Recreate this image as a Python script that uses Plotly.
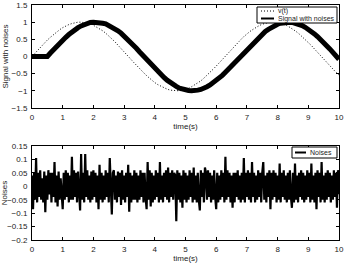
import numpy as np
import plotly.graph_objects as go
from plotly.subplots import make_subplots

# time grid for the smooth curves (0..10 s, step 0.1)
t_sig = np.round(np.arange(0, 10.0001, 0.1), 2)

v_t = [0.00, 0.10, 0.20, 0.30, 0.39, 0.48, 0.56, 0.64, 0.72, 0.78,
       0.84, 0.89, 0.93, 0.96, 0.99, 1.00, 1.00, 0.99, 0.97, 0.95,
       0.91, 0.86, 0.81, 0.75, 0.68, 0.60, 0.52, 0.43, 0.33, 0.24,
       0.14, 0.04, -0.06, -0.16, -0.26, -0.35, -0.44, -0.53, -0.61, -0.69,
       -0.76, -0.82, -0.87, -0.92, -0.95, -0.98, -0.99, -1.00, -1.00, -0.98,
       -0.96, -0.93, -0.88, -0.83, -0.77, -0.71, -0.63, -0.55, -0.46, -0.37,
       -0.28, -0.18, -0.08, 0.02, 0.12, 0.22, 0.31, 0.40, 0.49, 0.58,
       0.66, 0.73, 0.79, 0.85, 0.90, 0.94, 0.97, 0.99, 1.00, 1.00,
       0.99, 0.97, 0.94, 0.90, 0.85, 0.80, 0.73, 0.66, 0.58, 0.50,
       0.41, 0.32, 0.22, 0.12, 0.03, -0.08, -0.17, -0.27, -0.37, -0.46,
       -0.54]

signal_noisy = [0.00, 0.00, 0.00, 0.00, 0.00, 0.00, 0.10, 0.20, 0.30, 0.39,
                0.48, 0.56, 0.64, 0.72, 0.78, 0.84, 0.89, 0.93, 0.96, 0.99,
                1.00, 1.00, 0.99, 0.97, 0.95, 0.91, 0.86, 0.81, 0.75, 0.68,
                0.60, 0.52, 0.43, 0.33, 0.24, 0.14, 0.04, -0.06, -0.16, -0.26,
                -0.35, -0.44, -0.53, -0.61, -0.69, -0.76, -0.82, -0.87, -0.92, -0.95,
                -0.98, -0.99, -1.00, -1.00, -0.98, -0.96, -0.93, -0.88, -0.83, -0.77,
                -0.71, -0.63, -0.55, -0.46, -0.37, -0.28, -0.18, -0.08, 0.02, 0.12,
                0.22, 0.31, 0.40, 0.49, 0.58, 0.66, 0.73, 0.79, 0.85, 0.90,
                0.94, 0.97, 0.99, 1.00, 1.00, 0.99, 0.97, 0.94, 0.90, 0.85,
                0.80, 0.73, 0.66, 0.58, 0.50, 0.41, 0.32, 0.22, 0.12, 0.03,
                -0.08]

noise = [0.04, -0.085, 0.05, -0.05, 0.105, -0.06, 0.05, -0.04, 0.06, -0.05,
         0.03, -0.06, 0.055, -0.097, 0.04, -0.05, 0.06, -0.03, 0.05, -0.06,
         0.05, -0.04, 0.09, -0.06, 0.04, -0.075, 0.055, -0.05, 0.03, -0.06,
         -0.085, 0.05, -0.05, 0.06, -0.04, 0.05, -0.06, 0.04, -0.05, 0.11,
         -0.05, 0.06, -0.04, 0.05, -0.06, 0.055, -0.05, -0.09, 0.12, -0.05,
         0.05, -0.06, 0.12, -0.04, 0.06, -0.05, 0.04, -0.06, 0.055, -0.05,
         0.06, -0.04, 0.05, -0.06, 0.04, -0.085, 0.08, -0.05, 0.05, -0.06,
         0.04, -0.05, 0.06, -0.04, 0.05, -0.06, 0.105, -0.05, -0.105, 0.05,
         0.06, -0.05, 0.04, -0.06, 0.055, -0.04, 0.05, -0.07, 0.06, -0.05,
         0.04, -0.06, 0.05, -0.04, 0.08, -0.095, 0.05, -0.06, 0.04, -0.05,
         0.06, -0.05, 0.05, -0.06, 0.04, -0.05, 0.06, -0.04, 0.05, -0.06,
         0.05, -0.04, -0.085, 0.09, -0.05, 0.06, -0.075, 0.05, -0.06, 0.04,
         -0.05, 0.06, -0.04, 0.05, -0.06, 0.09, -0.05, 0.04, -0.06, 0.05,
         -0.04, 0.06, -0.05, 0.07, -0.06, 0.05, -0.04, 0.06, -0.05, 0.05,
         0.04, -0.13, 0.06, -0.05, 0.05, -0.06, 0.04, -0.08, 0.06, -0.05,
         0.05, -0.06, 0.04, -0.05, 0.06, -0.04, 0.05, -0.06, 0.07, -0.05,
         0.04, -0.06, 0.05, -0.05, -0.09, 0.06, -0.04, 0.05, -0.06, 0.07,
         0.05, -0.05, 0.06, -0.04, 0.05, -0.06, 0.04, -0.05, 0.06, -0.04,
         -0.085, 0.05, -0.06, 0.04, -0.05, 0.06, -0.04, 0.05, -0.06, 0.11,
         -0.05, 0.06, -0.04, 0.05, -0.06, 0.04, -0.08, 0.05, -0.06, 0.05,
         -0.04, 0.06, -0.05, 0.04, -0.06, 0.05, -0.05, 0.105, -0.06, 0.05,
         -0.04, 0.06, -0.05, 0.05, -0.06, 0.09, -0.04, 0.05, -0.06, 0.04,
         -0.05, 0.06, -0.04, 0.05, -0.06, 0.05, 0.09, -0.05, 0.04, -0.06,
         0.05, -0.04, 0.06, -0.085, 0.05, -0.05, 0.06, -0.04, 0.05, -0.06,
         0.04, -0.05, 0.085, -0.06, 0.05, -0.04, 0.06, -0.05, 0.04, -0.06,
         0.05, -0.05, 0.06, -0.04, -0.08, 0.05, -0.06, 0.085, -0.05, 0.04,
         -0.06, 0.05, -0.04, 0.06, -0.05, 0.05, -0.06, 0.04, -0.05, 0.06,
         -0.04, 0.05, -0.06, 0.085, -0.05, 0.04, -0.06, 0.05, -0.085, 0.06,
         -0.04, 0.05, -0.06, 0.09, -0.05, 0.04, -0.06, 0.05, -0.05, 0.06,
         -0.04, 0.05, -0.06, 0.04, -0.05, 0.06, -0.04, 0.05, -0.08, 0.06,
         -0.03]
t_noise = np.linspace(0, 10, len(noise))

x_ticks = [0, 1, 2, 3, 4, 5, 6, 7, 8, 9, 10]
y1_ticks = [-1.5, -1, -0.5, 0, 0.5, 1, 1.5]
y1_labels = ["\u22121.5", "\u22121", "\u22120.5", "0", "0.5", "1", "1.5"]
y2_ticks = [-0.2, -0.15, -0.1, -0.05, 0, 0.05, 0.1, 0.15]
y2_labels = ["\u22120.2", "\u22120.15", "\u22120.1", "\u22120.05", "0", "0.05", "0.1", "0.15"]

FONT = "Liberation Sans, Arial, Helvetica, sans-serif"
TXT = "#222"

# pixel layout of the figure
W, H = 346, 268
ML, MR, MT, MB = 32, 7, 5, 28
PW, PH = W - ML - MR, H - MT - MB


def px(x):
    return (x - ML) / PW


def py(y):
    return (H - MB - y) / PH


fig = make_subplots(rows=2, cols=1, vertical_spacing=0.16)

fig.add_trace(go.Scatter(x=t_sig, y=v_t, mode="lines", name="v(t)",
                         line=dict(color="black", width=1, dash="1px,2px")), row=1, col=1)
fig.add_trace(go.Scatter(x=t_sig, y=signal_noisy, mode="lines", name="Signal with noises",
                         line=dict(color="black", width=5)), row=1, col=1)
fig.add_trace(go.Scatter(x=t_noise, y=noise, mode="lines", name="Noises",
                         line=dict(color="black", width=2.2)), row=2, col=1)

axis_common = dict(showline=True, linecolor="black", linewidth=1, mirror="ticks",
                   ticks="inside", ticklen=3, tickcolor="black", showgrid=False,
                   zeroline=False, automargin=False,
                   tickfont=dict(size=8, color=TXT, family=FONT))
tfont = dict(size=8, family=FONT, color=TXT)

fig.update_xaxes(range=[0, 10], tickvals=x_ticks, ticklabelstandoff=1, **axis_common)
fig.update_xaxes(title=dict(text="time(s)", font=tfont, standoff=0))
fig.update_yaxes(ticklabelstandoff=2, **axis_common)
fig.update_yaxes(row=1, col=1, range=[-1.5, 1.5], tickvals=y1_ticks, ticktext=y1_labels,
                 domain=[py(108), 1],
                 title=dict(text="Signal with noises", font=tfont, standoff=1))
fig.update_yaxes(row=2, col=1, range=[-0.2, 0.15], tickvals=y2_ticks, ticktext=y2_labels,
                 domain=[0, py(146)],
                 title=dict(text="Noises", font=tfont, standoff=1))

shapes = []
annotations = []


def legend_box(x0, y0, x1, y1):
    shapes.append(dict(type="rect", xref="paper", yref="paper",
                       x0=px(x0), x1=px(x1), y0=py(y1), y1=py(y0),
                       line=dict(color="black", width=1), fillcolor="white", layer="above"))


def legend_item(xl0, xl1, y, text, dash, width):
    shapes.append(dict(type="line", xref="paper", yref="paper",
                       x0=px(xl0), x1=px(xl1), y0=py(y), y1=py(y),
                       line=dict(color="black", width=width, dash=dash), layer="above"))
    annotations.append(dict(xref="paper", yref="paper", x=px(xl1 + 2), y=py(y),
                            xanchor="left", yanchor="middle", text=text, showarrow=False,
                            font=dict(size=7, family=FONT, color=TXT)))


legend_box(257, 7, 337, 23)
legend_item(261, 274, 11, "v(t)", "1px,2px", 1)
legend_item(261, 274, 18.5, "Signal with noises", "solid", 2)

legend_box(292, 147, 337, 158)
legend_item(295, 306, 152.5, "Noises", "solid", 2)

fig.update_layout(
    width=W, height=H,
    margin=dict(l=ML, r=MR, t=MT, b=MB),
    paper_bgcolor="white", plot_bgcolor="white",
    font=dict(family=FONT, size=8, color=TXT),
    showlegend=False,
    shapes=shapes, annotations=annotations,
)

fig.write_html("out.html", config={"displayModeBar": False},
               post_script="document.body.style.margin='0';document.body.style.padding='0';")
